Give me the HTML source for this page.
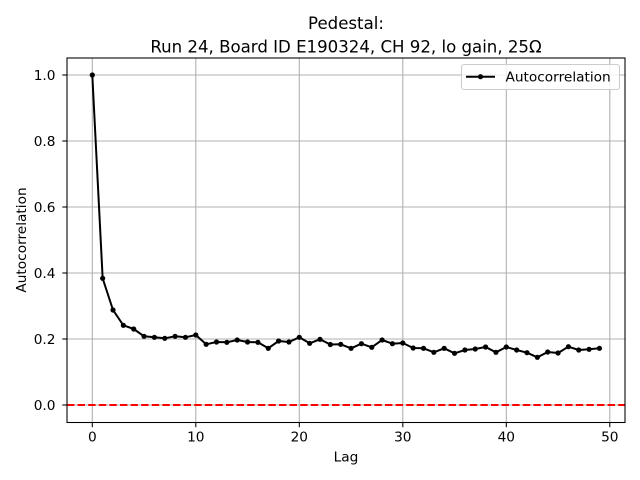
<!DOCTYPE html>
<html><head><meta charset="utf-8"><style>
html,body{margin:0;padding:0;background:#fff;}
svg{display:block;font-family:"DejaVu Sans","Liberation Sans",sans-serif;}
</style></head><body>
<svg width="640" height="480" viewBox="0 0 640 480" xmlns="http://www.w3.org/2000/svg">
<rect width="640" height="480" fill="#fff"/>
<!-- grid -->
<g stroke="#b0b0b0" stroke-width="1.07">
<line x1="92.3" y1="58" x2="92.3" y2="422.5"/>
<line x1="195.8" y1="58" x2="195.8" y2="422.5"/>
<line x1="299.3" y1="58" x2="299.3" y2="422.5"/>
<line x1="402.8" y1="58" x2="402.8" y2="422.5"/>
<line x1="506.3" y1="58" x2="506.3" y2="422.5"/>
<line x1="609.8" y1="58" x2="609.8" y2="422.5"/>
<line x1="67" y1="405" x2="625" y2="405"/>
<line x1="67" y1="339" x2="625" y2="339"/>
<line x1="67" y1="273" x2="625" y2="273"/>
<line x1="67" y1="207" x2="625" y2="207"/>
<line x1="67" y1="141" x2="625" y2="141"/>
<line x1="67" y1="75" x2="625" y2="75"/>
</g>
<!-- red dashed zero line -->
<line x1="67" y1="405" x2="625" y2="405" stroke="#ff0000" stroke-width="2" stroke-dasharray="7.4,3.2"/>
<!-- data -->
<polyline fill="none" stroke="#000" stroke-width="2" stroke-linejoin="round" points="92.3,75 102.65,278.3 113,310 123.35,325.3 133.7,329 144.05,336.3 154.4,337.3 164.75,338.3 175.1,336.3 185.45,337.3 195.8,335 206.15,344.3 216.5,342 226.85,342.3 237.2,340 247.55,342 257.9,342.3 268.25,348.3 278.6,341 288.95,342 299.3,337.3 309.65,343.3 320,339.3 330.35,344.5 340.7,344.3 351.05,348.3 361.4,343.7 371.75,347.3 382.1,340 392.45,343.7 402.8,343 413.15,348 423.5,348.3 433.85,352.3 444.2,348.3 454.55,353.3 464.9,350 475.25,349 485.6,347 495.95,352.3 506.3,347 516.65,350 527,352.7 537.35,357.3 547.7,352 558.05,353 568.4,346.7 578.75,350 589.1,349.3 599.45,348.3"/>
<g fill="#000">
<circle cx="92.3" cy="75" r="2.6"/><circle cx="102.65" cy="278.3" r="2.6"/><circle cx="113" cy="310" r="2.6"/><circle cx="123.35" cy="325.3" r="2.6"/><circle cx="133.7" cy="329" r="2.6"/><circle cx="144.05" cy="336.3" r="2.6"/><circle cx="154.4" cy="337.3" r="2.6"/><circle cx="164.75" cy="338.3" r="2.6"/><circle cx="175.1" cy="336.3" r="2.6"/><circle cx="185.45" cy="337.3" r="2.6"/><circle cx="195.8" cy="335" r="2.6"/><circle cx="206.15" cy="344.3" r="2.6"/><circle cx="216.5" cy="342" r="2.6"/><circle cx="226.85" cy="342.3" r="2.6"/><circle cx="237.2" cy="340" r="2.6"/><circle cx="247.55" cy="342" r="2.6"/><circle cx="257.9" cy="342.3" r="2.6"/><circle cx="268.25" cy="348.3" r="2.6"/><circle cx="278.6" cy="341" r="2.6"/><circle cx="288.95" cy="342" r="2.6"/><circle cx="299.3" cy="337.3" r="2.6"/><circle cx="309.65" cy="343.3" r="2.6"/><circle cx="320" cy="339.3" r="2.6"/><circle cx="330.35" cy="344.5" r="2.6"/><circle cx="340.7" cy="344.3" r="2.6"/><circle cx="351.05" cy="348.3" r="2.6"/><circle cx="361.4" cy="343.7" r="2.6"/><circle cx="371.75" cy="347.3" r="2.6"/><circle cx="382.1" cy="340" r="2.6"/><circle cx="392.45" cy="343.7" r="2.6"/><circle cx="402.8" cy="343" r="2.6"/><circle cx="413.15" cy="348" r="2.6"/><circle cx="423.5" cy="348.3" r="2.6"/><circle cx="433.85" cy="352.3" r="2.6"/><circle cx="444.2" cy="348.3" r="2.6"/><circle cx="454.55" cy="353.3" r="2.6"/><circle cx="464.9" cy="350" r="2.6"/><circle cx="475.25" cy="349" r="2.6"/><circle cx="485.6" cy="347" r="2.6"/><circle cx="495.95" cy="352.3" r="2.6"/><circle cx="506.3" cy="347" r="2.6"/><circle cx="516.65" cy="350" r="2.6"/><circle cx="527" cy="352.7" r="2.6"/><circle cx="537.35" cy="357.3" r="2.6"/><circle cx="547.7" cy="352" r="2.6"/><circle cx="558.05" cy="353" r="2.6"/><circle cx="568.4" cy="346.7" r="2.6"/><circle cx="578.75" cy="350" r="2.6"/><circle cx="589.1" cy="349.3" r="2.6"/><circle cx="599.45" cy="348.3" r="2.6"/>
</g>
<!-- axes frame -->
<rect x="67" y="58" width="558" height="364.5" fill="none" stroke="#000" stroke-width="1.07"/>
<!-- ticks -->
<g stroke="#000" stroke-width="1.07">
<line x1="92.3" y1="422.5" x2="92.3" y2="427.2"/>
<line x1="195.8" y1="422.5" x2="195.8" y2="427.2"/>
<line x1="299.3" y1="422.5" x2="299.3" y2="427.2"/>
<line x1="402.8" y1="422.5" x2="402.8" y2="427.2"/>
<line x1="506.3" y1="422.5" x2="506.3" y2="427.2"/>
<line x1="609.8" y1="422.5" x2="609.8" y2="427.2"/>
<line x1="62.3" y1="405" x2="67" y2="405"/>
<line x1="62.3" y1="339" x2="67" y2="339"/>
<line x1="62.3" y1="273" x2="67" y2="273"/>
<line x1="62.3" y1="207" x2="67" y2="207"/>
<line x1="62.3" y1="141" x2="67" y2="141"/>
<line x1="62.3" y1="75" x2="67" y2="75"/>
</g>
<g font-size="13.7" fill="#000" text-anchor="middle">
<text x="92.3" y="441.7">0</text>
<text x="195.8" y="441.7">10</text>
<text x="299.3" y="441.7">20</text>
<text x="402.8" y="441.7">30</text>
<text x="506.3" y="441.7">40</text>
<text x="609.8" y="441.7">50</text>
<text x="346" y="461.5">Lag</text>
</g>
<g font-size="13.7" fill="#000" text-anchor="end">
<text x="55.5" y="409.8">0.0</text>
<text x="55.5" y="343.8">0.2</text>
<text x="55.5" y="277.8">0.4</text>
<text x="55.5" y="211.8">0.6</text>
<text x="55.5" y="145.8">0.8</text>
<text x="55.5" y="79.8">1.0</text>
</g>
<text x="0" y="0" font-size="13.7" text-anchor="middle" transform="translate(26,240) rotate(-90)">Autocorrelation</text>
<!-- title -->
<g font-size="16.6" text-anchor="middle" fill="#000">
<text x="346" y="29">Pedestal:</text>
<text x="346" y="52.5">Run 24, Board ID E190324, CH 92, lo gain, 25Ω</text>
</g>
<!-- legend -->
<rect x="461.5" y="64.5" width="158" height="25" rx="2.5" fill="#fff" fill-opacity="0.8" stroke="#cccccc" stroke-width="1.07"/>
<line x1="466" y1="76.7" x2="495" y2="76.7" stroke="#000" stroke-width="2"/>
<circle cx="480.5" cy="76.7" r="2.6" fill="#000"/>
<text x="505.5" y="81.5" font-size="13.7" fill="#000">Autocorrelation</text>
</svg>
</body></html>
